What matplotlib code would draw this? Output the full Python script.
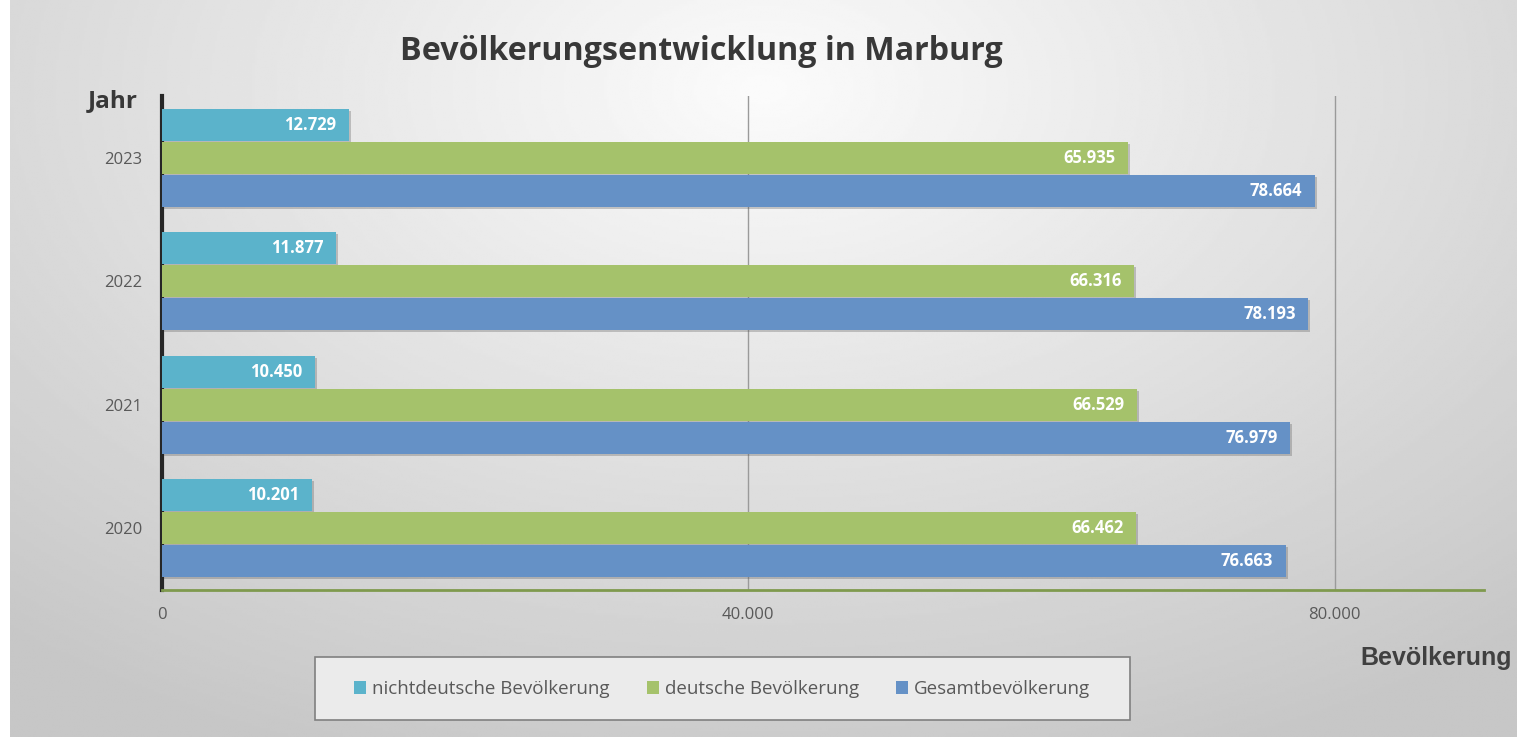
import numpy as np
import matplotlib
matplotlib.use('Agg')
import matplotlib.pyplot as plt
import matplotlib.patheffects as pe
from matplotlib.patches import Rectangle, Patch
from matplotlib.ticker import FuncFormatter

plt.rcParams['font.family'] = ['Open Sans', 'DejaVu Sans']

# ---- Daten ----
jahre = ['2020', '2021', '2022', '2023']
nichtdeutsch = [10201, 10450, 11877, 12729]
deutsch = [66462, 66529, 66316, 65935]
gesamt = [76663, 76979, 78193, 78664]

serien = [
    ('nichtdeutsche Bevölkerung', nichtdeutsch, '#5bb3cb'),
    ('deutsche Bevölkerung', deutsch, '#a5c26b'),
    ('Gesamtbevölkerung', gesamt, '#6591c6'),
]

def de_fmt(v):
    return f"{int(v):,}".replace(",", ".")

W, H = 1517, 737
fig = plt.figure(figsize=(W / 100, H / 100), dpi=100)

# Hintergrund mit radialem Verlauf
bg = fig.add_axes([10 / W, 0, 1 - 10 / W, 1], zorder=-10)
yy, xx = np.mgrid[0:1:300j, 0:1:600j]
r = np.sqrt(((xx - 0.5) / 0.75) ** 2 + ((yy - 0.12) / 0.95) ** 2)
grad = np.clip(0.985 - 0.2 * r, 0.78, 0.985)
bg.imshow(grad, cmap='gray', vmin=0, vmax=1, aspect='auto', extent=[0, 1, 1, 0])
bg.set_axis_off()

ax = fig.add_axes([162 / W, 1 - 590 / H, (1484 - 162) / W, (590 - 96) / H])
ax.patch.set_alpha(0)

y = np.arange(len(jahre))
h = 0.267
offsets = [h, 0, -h]
shadow = [pe.SimplePatchShadow(offset=(1.5, -1.5), alpha=0.3, shadow_rgbFace='#555555'), pe.Normal()]

for (name, vals, col), off in zip(serien, offsets):
    bars = ax.barh(y + off, vals, height=h * 0.97, color=col, zorder=3)
    for b in bars:
        b.set_path_effects(shadow)
    for yi, v in zip(y + off, vals):
        ax.annotate(de_fmt(v), xy=(v, yi), xytext=(-9, 0), textcoords='offset points',
                    ha='right', va='center', color='white', fontsize=12,
                    fontweight='bold', zorder=5)

ax.set_xlim(0, 90200)
ax.set_ylim(-0.5, len(jahre) - 0.5)
ax.set_yticks(y)
ax.set_yticklabels(jahre)
ax.set_xticks([0, 40000, 80000])
ax.xaxis.set_major_formatter(FuncFormatter(lambda v, p: de_fmt(v)))
ax.tick_params(axis='both', length=0, colors='#595959', labelsize=12)
ax.tick_params(axis='y', pad=14)
ax.tick_params(axis='x', pad=12)

ax.grid(axis='x', color='#9a9a9a', linewidth=1, zorder=1)
for s in ['top', 'right']:
    ax.spines[s].set_visible(False)
ax.spines['left'].set_color('#262626')
ax.spines['left'].set_linewidth(3)
ax.spines['bottom'].set_color('#7f9a4e')
ax.spines['bottom'].set_linewidth(2)

fig.text(701 / W, 1 - 52 / H, 'Bevölkerungsentwicklung in Marburg',
         ha='center', va='center', fontsize=23.2, fontweight='bold', color='#383838')
fig.text(138 / W, 1 - 101 / H, 'Jahr', ha='right', va='center',
         fontsize=17.5, fontweight='bold', color='#383838')
fig.text(1512 / W, 1 - 658 / H, 'Bevölkerung', ha='right', va='center',
         fontsize=18, fontweight='bold', color='#404040', family=['Liberation Sans'])

# Legende mit eigenem Rahmen
fig.patches.append(Rectangle((315 / W, 1 - 720 / H), (1130 - 315) / W, (720 - 657) / H,
                             transform=fig.transFigure, facecolor='#ebebeb',
                             edgecolor='#808080', linewidth=1.2, zorder=1))
handles = [Patch(facecolor=col, label=name) for name, _, col in serien]
leg = fig.legend(handles=handles, loc='center', bbox_to_anchor=(722 / W, 1 - 689 / H), ncol=3,
                 frameon=False, fontsize=13.5, labelcolor='#595959',
                 handlelength=0.65, handleheight=0.65, handletextpad=0.3,
                 columnspacing=2.0, borderaxespad=0)
leg.set_zorder(2)

fig.savefig('out.png', dpi=100)
